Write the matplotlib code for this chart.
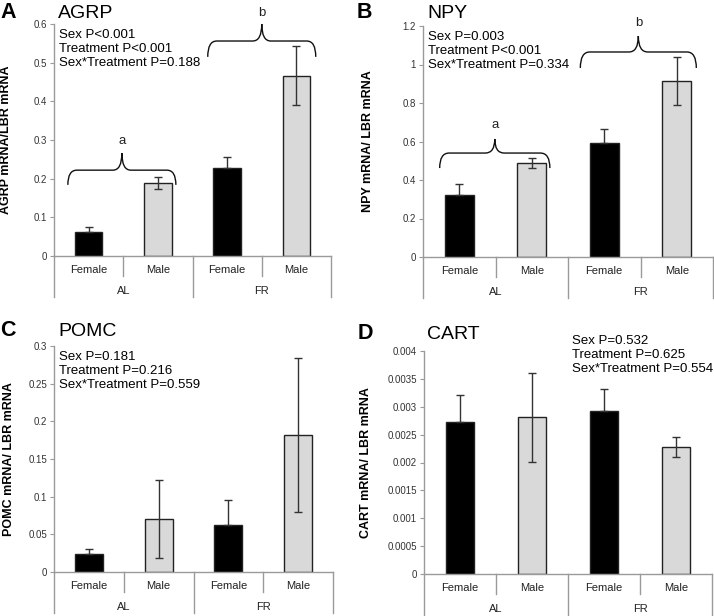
import matplotlib
matplotlib.use("Agg")
import matplotlib.pyplot as plt
import numpy as np
from matplotlib.path import Path
from matplotlib.patches import PathPatch

plt.rcParams['font.family'] = ['Liberation Sans', 'DejaVu Sans']

# data
sexes = ["Female", "Male", "Female", "Male"]
groups = ["AL", "FR"]

agrp_mean = [0.061, 0.189, 0.228, 0.466]
agrp_se = [0.013, 0.016, 0.027, 0.076]
npy_mean = [0.324, 0.488, 0.592, 0.913]
npy_se = [0.054, 0.025, 0.075, 0.125]
pomc_mean = [0.0235, 0.070, 0.062, 0.182]
pomc_se = [0.0067, 0.052, 0.034, 0.102]
cart_mean = [0.00273, 0.00281, 0.00292, 0.00227]
cart_se = [0.00048, 0.0008, 0.0004, 0.00018]

agrp_stats = "Sex P<0.001\nTreatment P<0.001\nSex*Treatment P=0.188"
npy_stats = "Sex P=0.003\nTreatment P<0.001\nSex*Treatment P=0.334"
pomc_stats = "Sex P=0.181\nTreatment P=0.216\nSex*Treatment P=0.559"
cart_stats = "Sex P=0.532\nTreatment P=0.625\nSex*Treatment P=0.554"

W, H = 714, 616
fig = plt.figure(figsize=(W / 100, H / 100), dpi=100)

bar_colors = ["black", "#d9d9d9", "black", "#d9d9d9"]
axis_col = "#9a9a9a"


def px_axes(l, r, top, zero):
    return fig.add_axes([l / W, (H - zero) / H, (r - l) / W, (zero - top) / H])


def brace(ax, x0, x1, ytip, yh, ypeak, label, ylab):
    xm = (x0 + x1) / 2
    dx = 0.13
    verts = [(x0, ytip), (x0, yh), (x0 + dx, yh),
             (xm - dx, yh), (xm, yh), (xm, ypeak),
             (xm, yh), (xm + dx, yh),
             (x1 - dx, yh), (x1, yh), (x1, ytip)]
    codes = [Path.MOVETO, Path.CURVE3, Path.CURVE3,
             Path.LINETO, Path.CURVE3, Path.CURVE3,
             Path.CURVE3, Path.CURVE3,
             Path.LINETO, Path.CURVE3, Path.CURVE3]
    ax.add_patch(PathPatch(Path(verts, codes), fill=False, lw=1.0,
                           ec="#111111", clip_on=False, zorder=5))
    ax.text(xm, ylab, label, ha="center", va="center", fontsize=9.5,
            color="#222222", clip_on=False)


def panel(ax, means, se, ymax, step, ylabel):
    x = np.arange(4)
    ax.bar(x, means, width=0.4, color=bar_colors, edgecolor="#222222",
           linewidth=1.0, zorder=2)
    for i in range(4):
        lo = 0 if i % 2 == 0 else se[i]
        ax.errorbar(x[i], means[i], yerr=[[lo], [se[i]]], fmt="none",
                    ecolor="#333333", elinewidth=1.0, capsize=3, capthick=1.0,
                    zorder=3)
    ax.set_xlim(-0.5, 3.5)
    ax.set_ylim(0, ymax)
    ax.set_yticks(np.arange(0, ymax + step / 2, step))
    ax.yaxis.set_major_formatter(plt.FuncFormatter(lambda v, p: "%g" % round(v, 6)))
    ax.tick_params(axis="y", labelsize=7, length=3, color=axis_col,
                   labelcolor="#333333", pad=2)
    ax.set_xticks([])
    for s in ["top", "right"]:
        ax.spines[s].set_visible(False)
    for s in ["left", "bottom"]:
        ax.spines[s].set_color(axis_col)
        ax.spines[s].set_linewidth(1.0)
    ax.set_ylabel(ylabel, fontsize=9, fontweight="bold")
    # category axis below
    hpx = ax.get_position().height * H
    tr = ax.get_xaxis_transform()
    for xs, depth in [(-0.5, 41), (1.5, 41), (3.5, 41), (0.5, 20), (2.5, 20)]:
        ax.plot([xs, xs], [0, -depth / hpx], color=axis_col, lw=1.0,
                transform=tr, clip_on=False)
    for i in range(4):
        ax.text(i, -14 / hpx, sexes[i], transform=tr, ha="center", va="center",
                fontsize=8, color="#222222")
    for g in range(2):
        ax.text(2 * g + 0.5, -35 / hpx, groups[g], transform=tr, ha="center",
                va="center", fontsize=8, color="#222222")


# A
axA = px_axes(54, 331, 24, 256)
panel(axA, agrp_mean, agrp_se, 0.6, 0.1, "AGRP mRNA/LBR mRNA")
axA.yaxis.set_label_coords(-0.152, 0.5)
axA.text(0.018, 0.978, agrp_stats, transform=axA.transAxes, ha="left", va="top",
         fontsize=9.5, linespacing=1.2)
brace(axA, -0.3, 1.26, 0.184, 0.222, 0.266, "a", 0.297)
brace(axA, 1.72, 3.28, 0.515, 0.556, 0.600, "b", 0.628)

# B
axB = px_axes(423, 713, 26, 257)
panel(axB, npy_mean, npy_se, 1.2, 0.2, "NPY mRNA/ LBR mRNA")
axB.yaxis.set_label_coords(-0.169, 0.5)
axB.text(0.018, 0.978, npy_stats, transform=axB.transAxes, ha="left", va="top",
         fontsize=9.5, linespacing=1.2)
brace(axB, -0.27, 1.25, 0.462, 0.540, 0.613, "a", 0.686)
brace(axB, 1.67, 3.27, 0.982, 1.065, 1.148, "b", 1.216)

# C
axC = px_axes(54, 333, 346, 572)
panel(axC, pomc_mean, pomc_se, 0.3, 0.05, "POMC mRNA/ LBR mRNA")
axC.yaxis.set_label_coords(-0.14, 0.5)
axC.text(0.018, 0.978, pomc_stats, transform=axC.transAxes, ha="left", va="top",
         fontsize=9.5, linespacing=1.2)

# D
axD = px_axes(424, 712, 351, 574)
panel(axD, cart_mean, cart_se, 0.004, 0.0005, "CART mRNA/ LBR mRNA")
axD.yaxis.set_label_coords(-0.18, 0.5)
axD.text(0.514, 1.07, cart_stats, transform=axD.transAxes, ha="left", va="top",
         fontsize=9.5, linespacing=1.2)

# panel letters and titles
for lx, tx, base, letter, title in [(0, 58, 18, "A", "AGRP"),
                                    (357, 427, 18, "B", "NPY"),
                                    (0, 58, 336, "C", "POMC"),
                                    (358, 427, 339, "D", "CART")]:
    fig.text(lx / W, 1 - base / H, letter, fontsize=15.5, fontweight="bold",
             ha="left", va="baseline")
    fig.text(tx / W, 1 - base / H, title, fontsize=14, ha="left", va="baseline")

fig.savefig("out.png", dpi=100)
